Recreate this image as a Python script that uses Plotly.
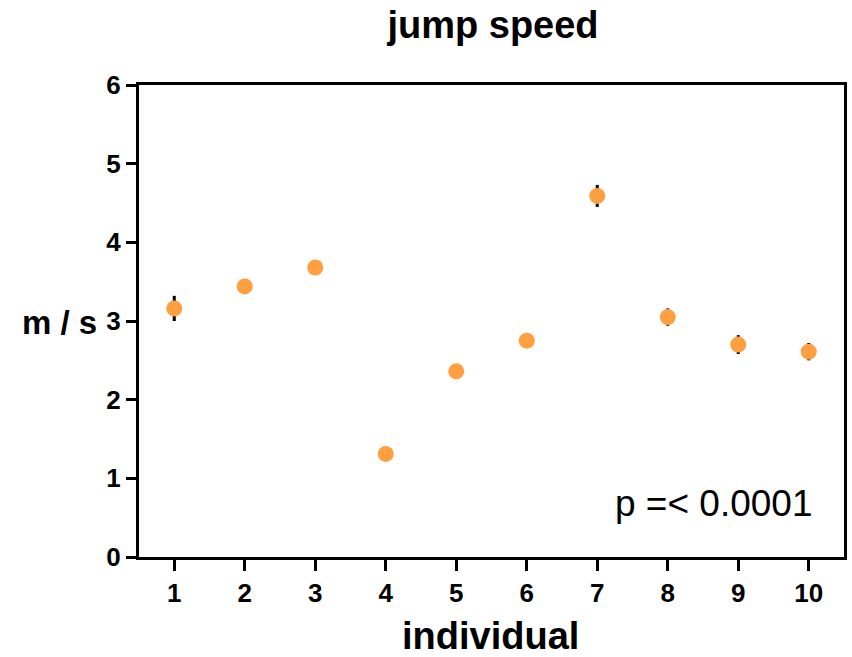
import plotly.graph_objects as go

individuals = [1, 2, 3, 4, 5, 6, 7, 8, 9, 10]
speed_mean = [3.16, 3.44, 3.68, 1.31, 2.36, 2.75, 4.59, 3.05, 2.70, 2.61]
speed_err = [0.16, 0.05, 0.05, 0.05, 0.05, 0.05, 0.14, 0.11, 0.12, 0.11]
y_ticks = [0, 1, 2, 3, 4, 5, 6]

FONT = "Liberation Sans, Arial, sans-serif"
L, R, T, B = 139, 5, 85, 100
W, H = 852, 657
PW, PH = W - L - R, H - T - B

fig = go.Figure()
fig.add_trace(go.Scatter(
    x=individuals, y=speed_mean, mode="markers",
    marker=dict(size=16, color="#FF9F40", line=dict(width=0)),
    error_y=dict(type="data", array=speed_err, visible=True,
                 color="black", thickness=3, width=0),
    showlegend=False,
))

fig.update_layout(
    width=W, height=H,
    margin=dict(l=L, r=R, t=T, b=B),
    paper_bgcolor="white", plot_bgcolor="white",
    font=dict(family=FONT, color="black"),
    title=dict(text="<b>jump speed</b>", x=(L + PW / 2) / W, xref="container",
               xanchor="center", y=1 - 25 / H, yref="container", yanchor="middle",
               font=dict(size=38, family=FONT, color="black")),
    xaxis=dict(
        range=[0.5, 10.5], tickmode="array", tickvals=individuals,
        ticktext=[f"<b>{v}</b>" for v in individuals],
        showline=True, linecolor="black", linewidth=3, mirror=True,
        ticks="outside", ticklen=11, tickwidth=3, tickcolor="black",
        showgrid=False, zeroline=False,
        tickfont=dict(size=26, family=FONT, color="black"),
    ),
    yaxis=dict(
        range=[0, 6], tickmode="array", tickvals=y_ticks,
        ticktext=[f"<b>{v}</b>" for v in y_ticks],
        showline=True, linecolor="black", linewidth=3, mirror=True,
        ticks="outside", ticklen=10, tickwidth=3, tickcolor="black",
        showgrid=False, zeroline=False,
        tickfont=dict(size=26, family=FONT, color="black"),
    ),
)

fig.add_annotation(text="<b>m / s</b>", xref="paper", yref="paper",
                   x=(59 - L) / PW, y=(557 - 322) / PH,
                   xanchor="center", yanchor="middle",
                   showarrow=False, font=dict(size=33, family=FONT, color="black"))
fig.add_annotation(text="<b>individual</b>", xref="paper", yref="paper",
                   x=(492 - L) / PW, y=(557 - 636) / PH,
                   xanchor="center", yanchor="middle",
                   showarrow=False, font=dict(size=38, family=FONT, color="black"))
fig.add_annotation(text="p =< 0.0001", xref="paper", yref="paper",
                   x=(818 - L) / PW, y=(557 - 503) / PH,
                   xanchor="right", yanchor="middle",
                   showarrow=False, font=dict(size=37, family=FONT, color="black"))

fig.write_html("out.html", config={"displayModeBar": False},
               post_script="document.body.style.margin='0';")
